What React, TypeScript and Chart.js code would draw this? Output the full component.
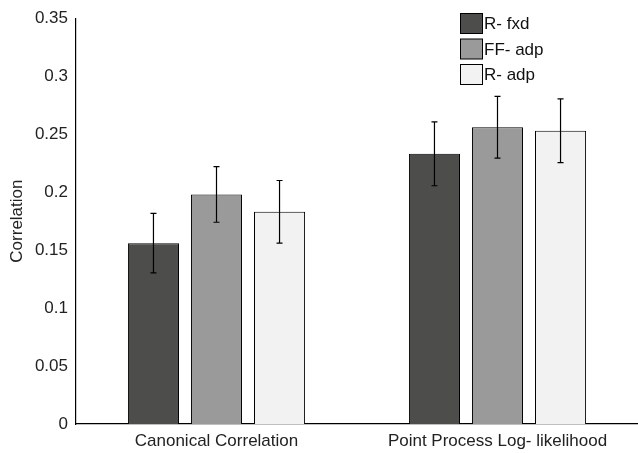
import React, { useEffect, useRef } from "react";
import { Chart, registerables } from "chart.js";

Chart.register(...registerables);

const categories = ["Canonical Correlation", "Point Process Log- likelihood"];
const seriesNames = ["R- fxd", "FF- adp", "R- adp"];
const rFxd = [0.156, 0.233];
const ffAdp = [0.198, 0.256];
const rAdp = [0.183, 0.253];
const rFxdErr = [0.0256, 0.0275];
const ffAdpErr = [0.024, 0.0266];
const rAdpErr = [0.027, 0.0275];
const colors = ["#4d4d4c", "#999a99", "#f2f2f2"];
const yTicks = [0, 0.05, 0.1, 0.15, 0.2, 0.25, 0.3, 0.35];

const FONT = "'Liberation Sans', Arial, Helvetica, sans-serif";

const errorBarPlugin = {
  id: "errorBars",
  afterDatasetsDraw(chart: any) {
    const ctx = chart.ctx;
    const y = chart.scales.y;
    chart.data.datasets.forEach((ds: any, di: number) => {
      const meta = chart.getDatasetMeta(di);
      meta.data.forEach((bar: any, i: number) => {
        const v = ds.data[i];
        const e = ds.errors[i];
        const top = y.getPixelForValue(v + e);
        const bot = y.getPixelForValue(v - e);
        const x = bar.x;
        ctx.save();
        ctx.strokeStyle = "#000";
        ctx.lineWidth = 1.2;
        ctx.beginPath();
        ctx.moveTo(x, top);
        ctx.lineTo(x, bot);
        ctx.moveTo(x - 3, top);
        ctx.lineTo(x + 3, top);
        ctx.moveTo(x - 3, bot);
        ctx.lineTo(x + 3, bot);
        ctx.stroke();
        ctx.restore();
      });
    });
  },
};

const legendPlugin = {
  id: "customLegend",
  afterDraw(chart: any) {
    const ctx = chart.ctx;
    ctx.save();
    chart.data.datasets.forEach((ds: any, i: number) => {
      const bx = 460.5;
      const by = 13.5 + i * 25.5;
      ctx.fillStyle = ds.backgroundColor;
      ctx.fillRect(bx, by, 22, 20);
      ctx.strokeStyle = "#000";
      ctx.lineWidth = 1;
      ctx.strokeRect(bx, by, 22, 20);
      ctx.fillStyle = "#111";
      ctx.font = `17px ${FONT}`;
      ctx.textBaseline = "middle";
      ctx.textAlign = "left";
      ctx.fillText(ds.label, bx + 23.5, by + 11);
    });
    ctx.restore();
  },
};

export default function App() {
  const ref = useRef<HTMLCanvasElement>(null);
  useEffect(() => {
    document.body.style.margin = "0";
    const data = [rFxd, ffAdp, rAdp];
    const errs = [rFxdErr, ffAdpErr, rAdpErr];
    const chart = new Chart(ref.current!, {
      type: "bar",
      data: {
        labels: categories,
        datasets: seriesNames.map((n, i) => ({
          label: n,
          data: data[i],
          errors: errs[i],
          backgroundColor: colors[i],
          borderColor: "#000",
          borderWidth: 1,
          barPercentage: 0.81,
          categoryPercentage: 0.673,
        })) as any,
      },
      options: {
        animation: false,
        responsive: false,
        devicePixelRatio: 1,
        layout: { padding: { top: 18, right: 0, left: 0, bottom: 0 } },
        plugins: { legend: { display: false }, tooltip: { enabled: false } },
        scales: {
          x: {
            grid: { display: false, drawTicks: false },
            border: { display: true, color: "#000", width: 1.2 },
            ticks: { color: "#222", font: { family: FONT, size: 17 }, padding: 7 },
            afterFit(s: any) {
              s.height = 29;
            },
          },
          y: {
            min: 0,
            max: 0.35,
            afterBuildTicks(s: any) {
              s.ticks = yTicks.map((v) => ({ value: v }));
            },
            grid: { display: false, drawTicks: false },
            border: { display: true, color: "#000", width: 1.2 },
            ticks: {
              color: "#222",
              font: { family: FONT, size: 17 },
              padding: 8,
              callback: (v: any) => String(Number(v)),
            },
            title: {
              display: true,
              text: "Correlation",
              color: "#222",
              font: { family: FONT, size: 17 },
              padding: { top: 7, bottom: 0 },
            },
            afterFit(s: any) {
              s.width = 76;
            },
          },
        },
      },
      plugins: [errorBarPlugin, legendPlugin],
    });
    return () => chart.destroy();
  }, []);
  return <canvas ref={ref} width={638} height={453} style={{ display: "block" }} />;
}
